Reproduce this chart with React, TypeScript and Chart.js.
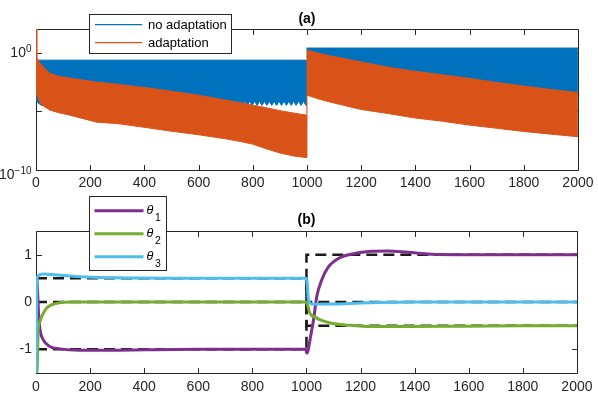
import { useEffect, useRef } from 'react';
import { Chart, registerables } from 'chart.js';
Chart.register(...registerables);

const FONT = '"Liberation Sans", Arial, Helvetica, sans-serif';
const AXIS_COLOR = '#262626';

// ---------- shared ----------
const xTicks = [0, 200, 400, 600, 800, 1000, 1200, 1400, 1600, 1800, 2000];

// ---------- panel (a) : error envelopes, log10 values ----------
const errSeriesNames = ['no adaptation', 'adaptation'];
const errColors = ['#0072BD', '#D95319'];
const errTickExponents = [-10, -5, 0];
const errLabelExponents = [-10, 0];

// no adaptation, before the switch
const noAdaptBeforeHiX = [0, 1000];
const noAdaptBeforeHi = [-0.65, -0.65];
const noAdaptBeforeLoX = [0, 8, 20, 690, 699, 708, 717, 726, 735, 744, 753, 762, 771, 780, 789, 798, 807, 816, 825, 834, 843, 852, 861, 870, 879, 888, 897, 906, 915, 924, 933, 942, 951, 960, 969, 978, 987, 996, 1000];
const noAdaptBeforeLo = [-4.0, -4.3, -4.5, -4.5, -4.15, -4.5, -4.15, -4.5, -4.15, -4.5, -4.15, -4.5, -4.15, -4.5, -4.15, -4.5, -4.15, -4.5, -4.15, -4.5, -4.15, -4.5, -4.15, -4.5, -4.15, -4.5, -4.15, -4.5, -4.15, -4.5, -4.15, -4.5, -4.15, -4.5, -4.15, -4.5, -4.15, -4.5, -4.5];
// no adaptation, after the switch
const noAdaptAfterHiX = [998, 2000];
const noAdaptAfterHi = [0.38, 0.38];
const noAdaptAfterLoX = [998, 1250, 1500, 1750, 2000];
const noAdaptAfterLo = [-0.4, -1.4, -2.3, -3.0, -3.7];
// adaptation, before the switch
const adaptBeforeX = [0, 3, 6, 15, 30, 51, 80, 125, 224, 300, 419, 500, 600, 700, 760, 800, 850, 900, 950, 1000];
const adaptBeforeHi = [2.2, -0.35, -0.6, -0.9, -1.3, -1.76, -2.0, -2.18, -2.52, -2.7, -3.03, -3.3, -3.63, -4.05, -4.3, -4.48, -4.7, -4.95, -5.15, -5.33];
const adaptBeforeLo = [-3.4, -3.6, -3.8, -4.3, -4.6, -4.9, -5.1, -5.33, -5.93, -6.05, -6.43, -6.7, -7.0, -7.35, -7.6, -7.8, -8.2, -8.55, -8.8, -8.95];
// adaptation, after the switch
const adaptAfterX = [998, 1000, 1050, 1100, 1200, 1300, 1400, 1500, 1600, 1700, 1800, 1900, 2000];
const adaptAfterHi = [0.2, 0.2, -0.1, -0.35, -0.8, -1.25, -1.6, -1.9, -2.2, -2.55, -2.85, -3.15, -3.4];
const adaptAfterLo = [-8.95, -3.63, -4.0, -4.3, -4.85, -5.2, -5.58, -5.85, -6.18, -6.45, -6.72, -6.95, -7.17];

// ---------- panel (b) : parameter estimates ----------
const thetaNames = ['1', '2', '3'];
const thetaColors = ['#7E2F8E', '#77AC30', '#4DBEEE'];
const thetaTicks = [-1, 0, 1];

const theta1X = [0, 2, 6, 10, 15, 27, 51, 88, 162, 272, 400, 600, 997, 1001, 1006, 1013, 1026, 1038, 1056, 1081, 1118, 1179, 1240, 1301, 1375, 1461, 1600, 1800, 2000];
const theta1Y = [0.1, 0.55, 0.2, -0.3, -0.59, -0.8, -0.94, -0.99, -1.02, -1.02, -1.01, -1.0, -1.0, -1.08, -1.02, -0.8, -0.38, 0.11, 0.46, 0.74, 0.92, 1.025, 1.07, 1.08, 1.05, 1.01, 1.0, 1.0, 1.0];
const theta2X = [0, 5, 8, 14, 21, 39, 76, 136, 300, 1000, 1004, 1013, 1032, 1056, 1093, 1154, 1240, 1375, 1600, 1800, 2000];
const theta2Y = [-1.6, -1.3, -0.6, -0.42, -0.31, -0.13, -0.03, 0, 0, 0, -0.06, -0.24, -0.32, -0.39, -0.45, -0.49, -0.52, -0.52, -0.51, -0.5, -0.5];
const theta3X = [0, 3, 6, 15, 30, 60, 100, 150, 235, 350, 500, 997, 1002, 1007, 1015, 1030, 1060, 1100, 1200, 1400, 2000];
const theta3Y = [-1.6, 0.4, 0.54, 0.58, 0.59, 0.58, 0.56, 0.54, 0.52, 0.505, 0.5, 0.5, 0.45, 0.05, -0.03, -0.05, -0.04, -0.04, -0.02, 0, 0];

const refX = [0, 1000, 1000, 2000];
const ref1Y = [-1, -1, 1, 1];
const ref2Y = [0, 0, -0.5, -0.5];
const ref3Y = [0.5, 0.5, 0, 0];

// ---------- helpers ----------
const pts = (xs: number[], ys: number[], f = (v: number) => v) => xs.map((x, i) => ({ x, y: f(ys[i]) }));
const pow10 = (v: number) => Math.pow(10, v);
const TICK_LEN = 5.4;

function drawBoxAndTicks(chart: any, yTickValues: number[]) {
  const { ctx, chartArea: a, scales } = chart;
  const L = Math.round(a.left) + 0.5, R = Math.round(a.right) + 0.5;
  const T = Math.round(a.top) + 0.5, B = Math.round(a.bottom) + 0.5;
  ctx.save();
  ctx.strokeStyle = AXIS_COLOR;
  ctx.lineWidth = 1;
  ctx.beginPath();
  ctx.rect(L, T, R - L, B - T);
  for (const v of xTicks) {
    const px = Math.round(scales.x.getPixelForValue(v)) + 0.5;
    ctx.moveTo(px, B); ctx.lineTo(px, B - TICK_LEN);
    ctx.moveTo(px, T); ctx.lineTo(px, T + TICK_LEN);
  }
  for (const v of yTickValues) {
    const py = Math.round(scales.y.getPixelForValue(v)) + 0.5;
    ctx.moveTo(L, py); ctx.lineTo(L + TICK_LEN, py);
    ctx.moveTo(R, py); ctx.lineTo(R - TICK_LEN, py);
  }
  ctx.stroke();
  ctx.restore();
}

function drawTitle(ctx: CanvasRenderingContext2D, text: string, x: number, y: number) {
  ctx.save();
  ctx.fillStyle = '#000';
  ctx.font = `bold 14px ${FONT}`;
  ctx.textAlign = 'center';
  ctx.textBaseline = 'middle';
  ctx.fillText(text, x, y);
  ctx.restore();
}

const panelAPlugin = {
  id: 'panelA',
  beforeDatasetsDraw(chart: any) {
    drawBoxAndTicks(chart, errTickExponents.map(pow10));
  },
  afterDraw(chart: any) {
    const { ctx, chartArea: a, scales } = chart;
    // log tick labels 10^e
    ctx.save();
    ctx.fillStyle = AXIS_COLOR;
    ctx.textBaseline = 'middle';
    ctx.textAlign = 'left';
    for (const e of errLabelExponents) {
      const py = scales.y.getPixelForValue(pow10(e));
      const baseY = py + (e === errTickExponents[0] ? 5.5 : 1);
      const sup = e < 0 ? '\u2212' + Math.abs(e) : String(e);
      ctx.font = `10px ${FONT}`;
      const supW = ctx.measureText(sup).width;
      ctx.font = `14px ${FONT}`;
      const baseW = ctx.measureText('10').width;
      const right = a.left - 4.5;
      ctx.fillText('10', right - supW - baseW, baseY);
      ctx.font = `10px ${FONT}`;
      ctx.fillText(sup, right - supW, baseY - 4.5);
    }
    ctx.restore();
    drawTitle(ctx, '(a)', (a.left + a.right) / 2, 19);
    // legend
    ctx.save();
    ctx.fillStyle = '#fff';
    ctx.fillRect(89, 14, 142, 39);
    ctx.strokeStyle = AXIS_COLOR;
    ctx.lineWidth = 1;
    ctx.strokeRect(89.5, 14.5, 142, 39);
    errSeriesNames.forEach((name, i) => {
      const y = 24.7 + i * 18;
      ctx.strokeStyle = errColors[i];
      ctx.lineWidth = 1.2;
      ctx.beginPath();
      ctx.moveTo(95, y);
      ctx.lineTo(142, y);
      ctx.stroke();
      ctx.fillStyle = '#000';
      ctx.font = `13px ${FONT}`;
      ctx.textBaseline = 'middle';
      ctx.textAlign = 'left';
      ctx.fillText(name, 148, y + 0.8);
    });
    ctx.restore();
  },
};

const panelBPlugin = {
  id: 'panelB',
  beforeDatasetsDraw(chart: any) {
    drawBoxAndTicks(chart, thetaTicks);
  },
  afterDraw(chart: any) {
    const { ctx, chartArea: a } = chart;
    drawTitle(ctx, '(b)', (a.left + a.right) / 2, 28);
    ctx.save();
    ctx.fillStyle = '#fff';
    ctx.fillRect(89, 4.5, 77, 74);
    ctx.strokeStyle = AXIS_COLOR;
    ctx.lineWidth = 1;
    ctx.strokeRect(89.5, 4.5, 77, 74);
    thetaNames.forEach((sub, i) => {
      const y = 18.7 + i * 23;
      ctx.strokeStyle = thetaColors[i];
      ctx.lineWidth = 3;
      ctx.beginPath();
      ctx.moveTo(94.5, y);
      ctx.lineTo(143.5, y);
      ctx.stroke();
      ctx.fillStyle = '#000';
      ctx.textBaseline = 'middle';
      ctx.textAlign = 'left';
      ctx.font = `italic 12.5px ${FONT}`;
      ctx.fillText('\u03B8', 146.5, y);
      ctx.font = `10.5px ${FONT}`;
      ctx.fillText(sub, 155, y + 7);
    });
    ctx.restore();
  },
};

const xScale = (padding: number) => ({
  type: 'linear' as const,
  min: 0,
  max: 2000,
  afterBuildTicks: (s: any) => { s.ticks = xTicks.map((value) => ({ value })); },
  afterFit: (s: any) => { s.height = 22; },
  grid: { display: false, drawTicks: false },
  border: { display: false },
  ticks: {
    autoSkip: false,
    maxRotation: 0,
    padding,
    color: AXIS_COLOR,
    font: { family: FONT, size: 14 },
    callback: (v: any) => String(v),
  },
});

function band(hiX: number[], hi: number[], loX: number[], lo: number[], color: string, order: number, loIndex: number) {
  const common = { pointRadius: 0, borderWidth: 1, borderColor: color, tension: 0, order };
  return [
    { ...common, data: pts(loX, lo, pow10), fill: false },
    { ...common, data: pts(hiX, hi, pow10), fill: { target: loIndex }, backgroundColor: color },
  ];
}

function configA(): any {
  const datasets: any[] = [];
  const addBand = (hiX: number[], hi: number[], loX: number[], lo: number[], series: number) => {
    const idx = datasets.length;
    datasets.push(...band(hiX, hi, loX, lo, errColors[series], series === 0 ? 1 : 0, idx));
  };
  addBand(noAdaptBeforeHiX, noAdaptBeforeHi, noAdaptBeforeLoX, noAdaptBeforeLo, 0);
  addBand(noAdaptAfterHiX, noAdaptAfterHi, noAdaptAfterLoX, noAdaptAfterLo, 0);
  addBand(adaptBeforeX, adaptBeforeHi, adaptBeforeX, adaptBeforeLo, 1);
  addBand(adaptAfterX, adaptAfterHi, adaptAfterX, adaptAfterLo, 1);
  return {
    type: 'line',
    data: { datasets },
    options: {
      animation: false,
      responsive: false,
      events: [],
      layout: { padding: { top: 29, right: 18, left: 0, bottom: 0 } },
      plugins: { legend: { display: false }, tooltip: { enabled: false }, title: { display: false } },
      scales: {
        x: xScale(4.5),
        y: {
          type: 'logarithmic',
          min: 1e-10,
          max: 1e2,
          afterBuildTicks: (s: any) => { s.ticks = errTickExponents.map((e) => ({ value: pow10(e) })); },
          afterFit: (s: any) => { s.width = 36; },
          grid: { display: false, drawTicks: false },
          border: { display: false },
          ticks: { display: false },
        },
      },
    },
    plugins: [panelAPlugin],
  };
}

function configB(): any {
  const refs = [ref1Y, ref2Y, ref3Y].map((ys) => ({
    data: pts(refX, ys),
    borderColor: '#1a1a1a',
    borderWidth: 2.5,
    borderDash: [11, 6],
    pointRadius: 0,
    tension: 0,
    fill: false,
    order: 10,
    clip: 0,
  }));
  const thetas = [
    [theta1X, theta1Y],
    [theta2X, theta2Y],
    [theta3X, theta3Y],
  ].map(([xs, ys], i) => ({
    data: pts(xs, ys),
    borderColor: thetaColors[i],
    borderWidth: 3,
    pointRadius: 0,
    cubicInterpolationMode: 'monotone',
    fill: false,
    order: 5 - i,
    clip: 0,
  }));
  return {
    type: 'line',
    data: { datasets: [...thetas, ...refs] },
    options: {
      animation: false,
      responsive: false,
      events: [],
      layout: { padding: { top: 39, right: 18, left: 0, bottom: 0 } },
      plugins: { legend: { display: false }, tooltip: { enabled: false }, title: { display: false } },
      scales: {
        x: xScale(5.5),
        y: {
          type: 'linear',
          min: -1.5,
          max: 1.5,
          afterBuildTicks: (s: any) => { s.ticks = thetaTicks.map((value) => ({ value })); },
          afterFit: (s: any) => { s.width = 36; },
          grid: { display: false, drawTicks: false },
          border: { display: false },
          ticks: {
            padding: 4,
            color: AXIS_COLOR,
            font: { family: FONT, size: 14 },
            callback: (v: any) => String(v),
          },
        },
      },
    },
    plugins: [panelBPlugin],
  };
}

export default function App() {
  const refA = useRef<HTMLCanvasElement>(null);
  const refB = useRef<HTMLCanvasElement>(null);
  useEffect(() => {
    const a = new Chart(refA.current as HTMLCanvasElement, configA());
    const b = new Chart(refB.current as HTMLCanvasElement, configB());
    return () => {
      a.destroy();
      b.destroy();
    };
  }, []);
  return (
    <div style={{ position: 'absolute', left: 0, top: 0, width: 598, height: 395, background: '#fff' }}>
      <canvas ref={refA} width={598} height={192} style={{ position: 'absolute', left: 0, top: 0, width: 598, height: 192 }} />
      <canvas ref={refB} width={598} height={203} style={{ position: 'absolute', left: 0, top: 192, width: 598, height: 203 }} />
    </div>
  );
}
